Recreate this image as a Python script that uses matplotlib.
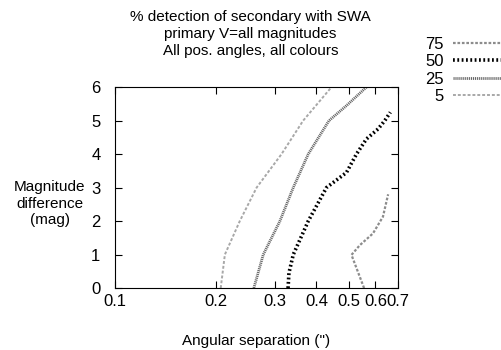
"""Detection contours of a secondary with SWA."""

import matplotlib

matplotlib.use("Agg")
import matplotlib.pyplot as plt
from matplotlib.ticker import FixedLocator, NullFormatter, NullLocator

plt.rcParams["font.family"] = ["Liberation Sans", "DejaVu Sans"]

# Contour data: separation (arcsec) vs magnitude difference
sep_5 = [0.207, 0.213, 0.236, 0.265, 0.3145, 0.365, 0.4435]
mag_5 = [0.0, 1.0, 2.0, 3.0, 4.0, 5.0, 6.0]

sep_25 = [0.260, 0.2774, 0.311, 0.341, 0.378, 0.436, 0.492, 0.564]
mag_25 = [0.0, 1.0, 2.0, 3.0, 4.0, 5.0, 5.45, 6.0]

sep_50 = [0.329, 0.331, 0.341, 0.378, 0.4285, 0.4917, 0.5267, 0.5639, 0.611, 0.640, 0.665]
mag_50 = [0.0, 0.45, 1.0, 2.0, 3.0, 3.45, 4.0, 4.45, 4.75, 5.0, 5.25]

sep_75 = [0.555, 0.509, 0.539, 0.590, 0.632, 0.655]
mag_75 = [0.0, 0.99, 1.28, 1.63, 2.13, 2.8]

x_ticks = [0.1, 0.2, 0.3, 0.4, 0.5, 0.6, 0.7]
x_tick_labels = ["0.1", "0.2", "0.3", "0.4", "0.5", "0.6", "0.7"]
y_ticks = [0, 1, 2, 3, 4, 5, 6]

fig = plt.figure(figsize=(5.01, 3.5), dpi=100)
ax = fig.add_axes([0.2295, 0.177, 0.5645, 0.574])

ax.plot(sep_75, mag_75, color="#8c8c8c", lw=1.6, ls=(0, (1.2, 0.8)), label="75")
ax.plot(sep_50, mag_50, color="black", lw=2.6, ls=(0, (0.5, 0.7)), label="50")
ax.plot(sep_25, mag_25, color="#666666", lw=2.0, ls=(0, (0.4, 0.3)), label="25")
ax.plot(sep_5, mag_5, color="#a8a8a8", lw=1.4, ls=(0, (1.5, 1.0)), label="5")

ax.set_xscale("log")
ax.set_xlim(0.1, 0.7)
ax.set_ylim(0, 6)
ax.xaxis.set_major_locator(FixedLocator(x_ticks))
ax.xaxis.set_minor_locator(NullLocator())
ax.xaxis.set_minor_formatter(NullFormatter())
ax.set_xticklabels(x_tick_labels)
ax.set_yticks(y_ticks)
ax.tick_params(direction="in", length=5, width=0.8, top=True, right=True,
               labelsize=12)
ax.tick_params(axis="x", pad=4)
ax.tick_params(axis="y", pad=10.5)
for spine in ax.spines.values():
    spine.set_linewidth(0.8)

ax.set_xlabel("Angular separation (\")", fontsize=11, labelpad=18)
ax.set_ylabel("Magnitude\ndifference\n(mag)", fontsize=11, rotation=0,
              ha="center", va="center", labelpad=0, linespacing=1.2)
ax.yaxis.set_label_coords(-0.23, 0.42)

fig.text(0.5, 0.972, "% detection of secondary with SWA\nprimary V=all magnitudes\n"
         "All pos. angles, all colours", ha="center", va="top", fontsize=11,
         linespacing=1.28)

leg = fig.legend(loc="upper right", bbox_to_anchor=(1.0, 0.895), frameon=False,
                 fontsize=12, markerfirst=False, handlelength=2.9,
                 handletextpad=0.55, labelspacing=0.15, borderaxespad=0,
                 borderpad=0)
for txt in leg.get_texts():
    txt.set_ha("right")

fig.savefig("out.png", dpi=100)
